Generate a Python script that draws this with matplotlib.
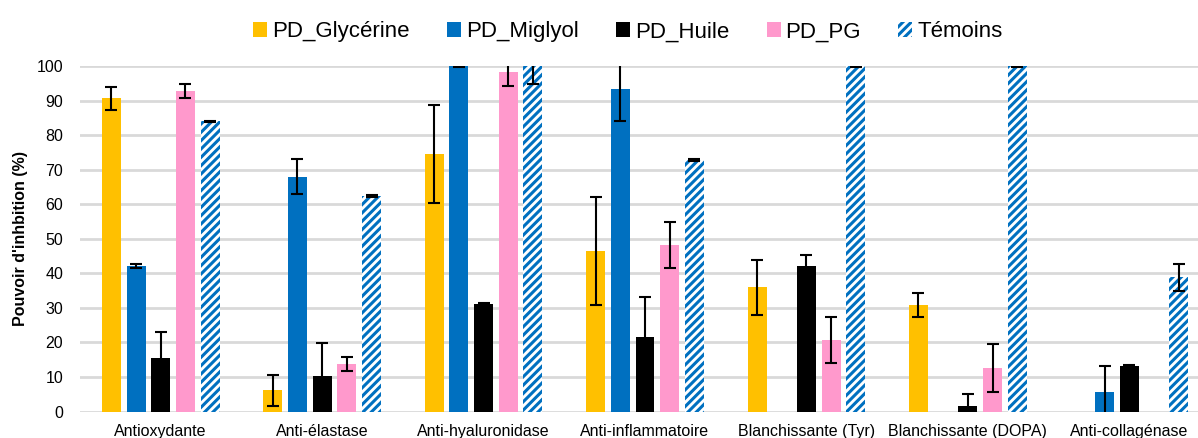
import matplotlib.pyplot as plt
import numpy as np

plt.rcParams['font.family'] = ['Liberation Sans', 'DejaVu Sans']
plt.rcParams['hatch.linewidth'] = 2.2

categories = ['Antioxydante', 'Anti-élastase', 'Anti-hyaluronidase', 'Anti-inflammatoire',
              'Blanchissante (Tyr)', 'Blanchissante (DOPA)', 'Anti-collagénase']
series = ['PD_Glycérine', 'PD_Miglyol', 'PD_Huile', 'PD_PG', 'Témoins']

glycerine = [90.6, 6.1, 74.6, 46.4, 35.9, 30.8, 0]
glycerine_err = [3.3, 4.6, 14.2, 15.6, 8.0, 3.5, 0]
miglyol = [42.1, 68.0, 100, 93.4, 0, 0, 5.5]
miglyol_err = [0.5, 5.0, 0.2, 9.2, 0, 0, 7.8]
huile = [15.6, 10.4, 31.0, 21.7, 42.2, 1.7, 13.3]
huile_err = [7.4, 9.5, 0.3, 11.5, 3.2, 3.3, 0.1]
pg = [92.8, 13.7, 98.3, 48.1, 20.6, 12.6, 0]
pg_err = [2.0, 2.0, 4.0, 6.7, 6.7, 7.0, 0]
temoins = [84.0, 62.4, 100, 72.8, 100, 100, 38.8]
temoins_err = [0.2, 0.2, 5.3, 0.2, 0.3, 0.3, 4.0]

colors = ['#FFC000', '#0070C0', '#000000', '#FF99CC', '#0070C0']

fig = plt.figure(figsize=(11.98, 4.38), dpi=100)
ax = fig.add_axes([80/1198, 26.5/438, 1130/1198, 345.5/438])

x = np.arange(len(categories))
w = 0.1176
step = 0.153
data = [glycerine, miglyol, huile, pg, temoins]
errs = [glycerine_err, miglyol_err, huile_err, pg_err, temoins_err]

handles = []
for i in range(5):
    pos = x + (i - 2) * step
    if i == 4:
        b = ax.bar(pos, data[i], w, color='white', edgecolor=colors[i], hatch='////',
                   linewidth=0, zorder=3, label=series[i])
    else:
        b = ax.bar(pos, data[i], w, color=colors[i], linewidth=0, zorder=3, label=series[i])
    handles.append(b)
    e = np.array(errs[i])
    mask = e > 0
    ax.errorbar(pos[mask], np.array(data[i])[mask], yerr=e[mask], fmt='none', ecolor='black',
                elinewidth=1.5, capsize=4, capthick=1.5, zorder=4)

ax.set_xlim(-0.5, len(categories) - 0.5)
ax.set_ylim(0, 100)
ax.set_yticks(range(0, 101, 10))
ax.set_xticks(x)
ax.set_xticklabels(categories, fontsize=11.5)
ax.tick_params(axis='y', labelsize=11.5, length=0, pad=12)
ax.tick_params(axis='x', length=0, pad=9)
ax.yaxis.grid(True, color='#D9D9D9', linewidth=2, zorder=0)
ax.set_axisbelow(True)
for s in ax.spines.values():
    s.set_visible(False)
ax.set_ylabel("Pouvoir d'inhbition (%)", fontsize=11.5, fontweight='bold', labelpad=6)

fig.legend(handles=handles, labels=series, loc='upper center', bbox_to_anchor=(628/1198, 0.997),
           ncol=5, frameon=False, fontsize=16, handlelength=0.63, handleheight=0.63,
           handletextpad=0.22, columnspacing=1.68)

fig.savefig('out.png', dpi=100)
